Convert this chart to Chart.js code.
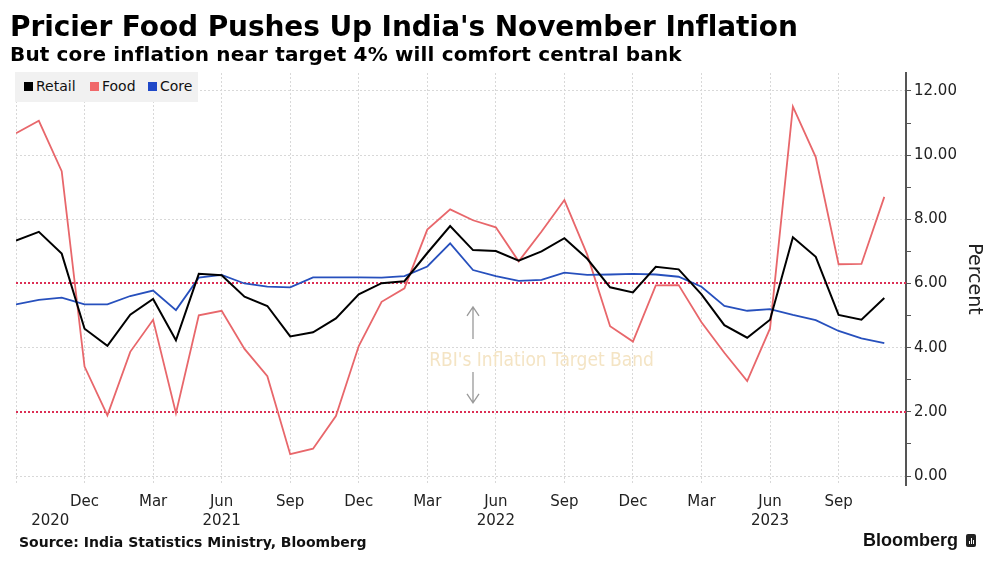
<!DOCTYPE html>
<html>
<head>
<meta charset="utf-8">
<script src="https://cdn.jsdelivr.net/npm/chart.js@4.4.1/dist/chart.umd.min.js"></script>
<style>
    html, body { margin: 0; padding: 0; background: #fff; }
    body { width: 1000px; height: 572px; position: relative; overflow: hidden;
           font-family: "DejaVu Sans", sans-serif; color: #000; }
    #wrap { position: absolute; left: 0; top: 0; width: 1000px; height: 572px; }
    .txt { position: absolute; white-space: nowrap; }
    #title { left: 10px; top: 10px; font-size: 28px; font-weight: bold; letter-spacing: -0.1px; }
    #subtitle { left: 10px; top: 42px; font-size: 20px; font-weight: bold; letter-spacing: 0.15px; }
    #legend { left: 15px; top: 72px; width: 183px; height: 30px; background: #f1f1f1;
              font-size: 14px; color: #111; }
    #legend span.item { position: absolute; top: 6px; }
    #legend i { display: inline-block; width: 9px; height: 9px; margin-right: 3px; vertical-align: 0px; }
    #source { left: 19px; top: 534px; font-size: 14px; font-weight: bold; color: #111; }
    #brand { left: 863px; top: 530px; font-family: "Liberation Sans", Arial, sans-serif;
             font-size: 18px; font-weight: bold; color: #111; }
    #brand i { display: inline-block; position: relative; width: 10px; height: 13px; background: #222;
               border-radius: 2px; margin-left: 8px; vertical-align: -1px; }
    #brand i b { position: absolute; bottom: 3px; width: 1.5px; background: #fff; }
</style>
</head>
<body>
<div id="wrap"><canvas id="inflationChart"></canvas></div>

<div class="txt" id="title">Pricier Food Pushes Up India's November Inflation</div>
<div class="txt" id="subtitle">But core inflation near target 4% will comfort central bank</div>
<div class="txt" id="legend">
    <span class="item" style="left:9px"><i style="background:#000"></i>Retail</span>
    <span class="item" style="left:75px"><i style="background:#f0686a"></i>Food</span>
    <span class="item" style="left:133px"><i style="background:#1f48c8"></i>Core</span>
</div>
<div class="txt" id="source">Source: India Statistics Ministry, Bloomberg</div>
<div class="txt" id="brand">Bloomberg<i><b style="left:2.5px;height:3px"></b><b style="left:4.5px;height:6px"></b><b style="left:6.5px;height:4px"></b></i></div>

<script>

// ======================================================
// Data (monthly, Sep 2020 - Nov 2023)
// ======================================================

const months = [
    "Sep 2020", "Oct 2020", "Nov 2020", "Dec 2020",
    "Jan 2021", "Feb 2021", "Mar 2021", "Apr 2021", "May 2021", "Jun 2021",
    "Jul 2021", "Aug 2021", "Sep 2021", "Oct 2021", "Nov 2021", "Dec 2021",
    "Jan 2022", "Feb 2022", "Mar 2022", "Apr 2022", "May 2022", "Jun 2022",
    "Jul 2022", "Aug 2022", "Sep 2022", "Oct 2022", "Nov 2022", "Dec 2022",
    "Jan 2023", "Feb 2023", "Mar 2023", "Apr 2023", "May 2023", "Jun 2023",
    "Jul 2023", "Aug 2023", "Sep 2023", "Oct 2023", "Nov 2023"
];

const retail = [
    7.34, 7.61, 6.93, 4.59,
    4.06, 5.03, 5.52, 4.23, 6.30, 6.26, 5.59, 5.30, 4.35, 4.48, 4.91, 5.66,
    6.01, 6.07, 6.95, 7.79, 7.04, 7.01, 6.71, 7.00, 7.41, 6.77, 5.88, 5.72,
    6.52, 6.44, 5.66, 4.70, 4.31, 4.87, 7.44, 6.83, 5.02, 4.87, 5.55
];

const food = [
    10.68, 11.07, 9.50, 3.41,
    1.89, 3.87, 4.87, 1.96, 5.01, 5.15, 3.96, 3.11, 0.68, 0.85, 1.87, 4.05,
    5.43, 5.85, 7.68, 8.31, 7.97, 7.75, 6.69, 7.62, 8.60, 6.90, 4.67, 4.19,
    5.94, 5.95, 4.79, 3.84, 2.96, 4.60, 11.51, 9.94, 6.60, 6.61, 8.70
];

const core = [
    5.35, 5.49, 5.56, 5.35,
    5.35, 5.61, 5.78, 5.17, 6.18, 6.27, 6.00, 5.90, 5.88, 6.19, 6.19, 6.19,
    6.18, 6.23, 6.53, 7.25, 6.42, 6.23, 6.08, 6.11, 6.34, 6.27, 6.28, 6.30,
    6.28, 6.21, 5.90, 5.30, 5.15, 5.20, 5.02, 4.86, 4.52, 4.29, 4.14
];

// quarterly tick labels (index into months) and year labels
const tickIndex  = [0, 3, 6, 9, 12, 15, 18, 21, 24, 27, 30, 33, 36];
const tickLabels = ["", "Dec", "Mar", "Jun", "Sep", "Dec", "Mar", "Jun", "Sep", "Dec", "Mar", "Jun", "Sep"];
const yearLabels = ["2020", "2021", "2022", "2023"];
const yearIndex  = [1.5, 9, 21, 33];

const yTicks = [0, 1, 2, 3, 4, 5, 6, 7, 8, 9, 10, 11, 12];

// RBI target band
const bandLow = 2;
const bandHigh = 6;
const bandText = "RBI's Inflation Target Band";


// ======================================================
// Helpers
// ======================================================

function toPoints(values) {
    return values.map((v, i) => ({ x: i, y: v }));
}

const FONT = "'DejaVu Sans', sans-serif";


// ======================================================
// Band + annotation plugin
// ======================================================

const bandPlugin = {

    id: "bandPlugin",

    beforeDatasetsDraw(chart) {

        const { ctx, chartArea, scales } = chart;
        const x = scales.x;
        const y = scales.y;

        ctx.save();

        // red dotted lines at 2% and 6%
        ctx.strokeStyle = "#dc2f55";
        ctx.lineWidth = 2;
        ctx.setLineDash([2, 2]);
        [bandLow, bandHigh].forEach(v => {
            const py = Math.round(y.getPixelForValue(v));
            ctx.beginPath();
            ctx.moveTo(chartArea.left, py);
            ctx.lineTo(chartArea.right, py);
            ctx.stroke();
        });
        ctx.setLineDash([]);

        // label
        ctx.fillStyle = "#f4e4c4";
        ctx.font = "19px 'DejaVu Sans Condensed', " + FONT;
        ctx.textAlign = "center";
        ctx.textBaseline = "middle";
        ctx.fillText(bandText, x.getPixelForValue(23), y.getPixelForValue(3.57));

        // arrows
        const ax = x.getPixelForValue(20);
        ctx.strokeStyle = "#9a9a9a";
        ctx.lineWidth = 1.3;

        function arrow(from, to) {
            const y1 = y.getPixelForValue(from);
            const y2 = y.getPixelForValue(to);
            const dir = y2 < y1 ? 1 : -1;
            ctx.beginPath();
            ctx.moveTo(ax, y1);
            ctx.lineTo(ax, y2);
            ctx.moveTo(ax - 6, y2 + dir * 9);
            ctx.lineTo(ax, y2);
            ctx.lineTo(ax + 6, y2 + dir * 9);
            ctx.stroke();
        }

        arrow(4.27, 5.27);
        arrow(3.24, 2.28);

        ctx.restore();
    },

    afterDraw(chart) {

        const { ctx, scales } = chart;

        ctx.save();
        ctx.fillStyle = "#222";
        ctx.font = "15px " + FONT;
        ctx.textAlign = "center";
        ctx.textBaseline = "top";
        yearLabels.forEach((label, i) => {
            ctx.fillText(label, scales.x.getPixelForValue(yearIndex[i]), 514);
        });
        ctx.restore();
    }
};


// ======================================================
// Chart
// ======================================================

const ctx = document.getElementById("inflationChart").getContext("2d");

new Chart(ctx, {

    type: "line",

    data: {
        datasets: [
            {
                label: "Retail",
                data: toPoints(retail),
                borderColor: "#000000",
                borderWidth: 2,
                pointRadius: 0,
                order: 1
            },
            {
                label: "Food",
                data: toPoints(food),
                borderColor: "#e8676b",
                borderWidth: 1.8,
                pointRadius: 0,
                order: 3
            },
            {
                label: "Core",
                data: toPoints(core),
                borderColor: "#2750bd",
                borderWidth: 1.8,
                pointRadius: 0,
                order: 2
            }
        ]
    },

    options: {

        responsive: true,
        maintainAspectRatio: false,
        animation: false,

        layout: {
            padding: { left: 16, right: 0, top: 73, bottom: 0 }
        },

        plugins: {
            legend: { display: false },
            tooltip: { enabled: false }
        },

        scales: {

            x: {
                type: "linear",
                min: 0,
                max: 38.95,
                afterBuildTicks: scale => {
                    scale.ticks = tickIndex.map(v => ({ value: v }));
                },
                afterFit: scale => {
                    scale.height = 87;
                },
                ticks: {
                    autoSkip: false,
                    maxRotation: 0,
                    padding: 8,
                    color: "#222",
                    font: { family: FONT, size: 15 },
                    callback: (value) => tickLabels[tickIndex.indexOf(value)]
                },
                grid: {
                    color: "#d8d8d8",
                    lineWidth: 1,
                    drawTicks: false
                },
                border: {
                    display: false,
                    dash: [2, 2]
                }
            },

            y: {
                position: "right",
                min: -0.28,
                max: 12.56,
                afterBuildTicks: scale => {
                    scale.ticks = yTicks.map(v => ({ value: v }));
                },
                afterFit: scale => {
                    scale.width = 94;
                },
                ticks: {
                    padding: 3,
                    color: "#222",
                    font: { family: FONT, size: 15 },
                    callback: (value) => value % 2 === 0 ? value.toFixed(2) : ""
                },
                grid: {
                    color: c => (c.tick && c.tick.value % 2 === 0) ? "#d8d8d8" : "rgba(0,0,0,0)",
                    tickColor: "#555",
                    tickLength: 5,
                    lineWidth: 1
                },
                border: {
                    display: true,
                    color: "#555",
                    width: 2,
                    dash: [2, 2]
                },
                title: {
                    display: true,
                    text: "Percent",
                    color: "#222",
                    font: { family: FONT, size: 19 },
                    padding: { top: 15, bottom: 4 }
                }
            }
        }
    },

    plugins: [bandPlugin]
});

</script>
</body>
</html>
